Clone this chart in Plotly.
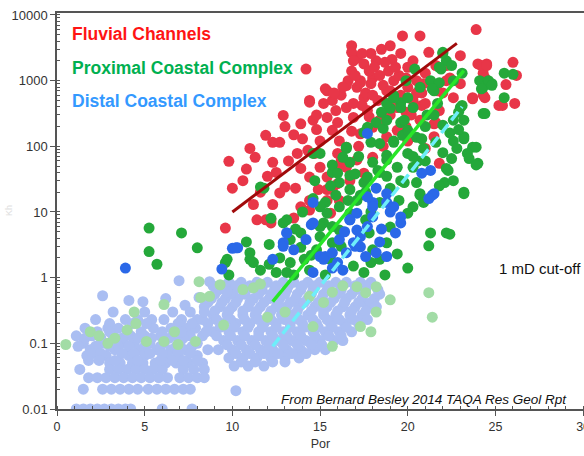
import math
import plotly.graph_objects as go

# ---------------- data (porosity %, permeability mD) ----------------
red_por = [9.8, 9.6, 10.6, 11.0, 11.3, 11.9, 12.3, 12.7, 12.9, 12.3, 13.0, 13.6, 12.3, 11.2, 10.0,
           13.9, 14.0, 14.4, 14.6, 15.4, 15.7, 14.3, 14.7, 13.7, 13.9, 14.4, 15.0, 14.9, 14.4, 15.4, 16.0, 16.1,
           16.8, 17.1, 16.8, 17.3, 18.0, 18.5, 19.0, 19.7, 20.7, 19.6, 20.0, 20.3, 20.5, 21.2, 21.6, 23.0, 23.9,
           24.0, 24.5, 24.3, 23.7, 24.3, 25.2,
           17.1, 17.5, 16.5, 16.9, 17.7, 18.3, 18.8, 19.2, 19.4, 20.0, 20.3, 20.7, 21.5, 21.8, 21.7, 22.2, 22.6,
           21.5, 21.8,
           15.4, 15.7, 16.1, 16.0, 16.5, 17.3, 18.0, 18.8, 18.4, 19.4, 20.0, 16.5, 17.1, 17.5, 18.0, 16.7, 16.0,
           15.4, 15.7, 15.4, 15.6, 14.4, 13.9, 12.7, 11.4, 12.2, 11.9, 12.2, 13.5, 14.2,
           22.2, 22.4, 22.0, 20.8, 21.6, 21.0, 20.8, 23.0, 24.2, 24.5, 24.4, 26.0, 26.2, 25.6, 23.7, 24.4, 25.4, 26.1,
           16.8, 17.5, 18.2, 18.9, 19.5, 17.8, 18.6, 17.6, 16.6, 16.2, 15.9, 16.9, 18.9, 19.9, 20.9, 21.0, 19.1,
           17.9, 12.5, 13.2, 13.5, 14.8, 13.0, 12.0, 11.6, 10.8, 14.4, 14.8, 15.3, 16.5, 17.3,
           16.9, 17.4, 18.1, 18.7, 19.3, 17.0, 17.9, 18.4, 19.9, 19.0, 17.4, 18.0, 16.3, 15.8, 15.2, 16.0,
           16.8, 17.8, 19.0, 19.6, 20.5, 21.0, 20.2, 18.6, 19.9, 17.2, 16.2, 15.0]
red_perm = [59, 5.7, 30, 93, 68, 147, 115, 115, 295, 57, 24, 23, 13, 13, 23,
            220, 130, 500, 250, 700, 500, 87, 78, 78, 46, 34, 48, 22, 15, 22, 27, 15,
            3400, 2200, 1400, 1000, 1100, 3000, 3400, 4800, 4800, 2600, 1600, 2000, 1000, 2700, 1700, 2400, 6000,
            1800, 1800, 1300, 550, 600, 420,
            790, 550, 390, 275, 350, 500, 700, 1000, 390, 790, 500, 250, 220, 350, 700, 1000, 550,
            140, 55,
            275, 175, 120, 78, 97, 155, 195, 140, 250, 175, 120, 48, 62, 39, 68, 30, 48,
            34, 22, 15, 9.6, 10.7, 12, 19.5, 7.6, 7.6, 7.6, 6.8, 8.1, 1500,
            1700, 1100, 650, 650, 230, 93, 420, 900, 1700, 1700, 1100, 1900, 1200, 870, 530, 550, 420, 450,
            2700, 1800, 2000, 1400, 1200, 1400, 850, 650, 1000, 600, 350, 450, 450, 330, 900, 1300, 2100,
            2600, 40, 60, 150, 180, 200, 35, 20, 45, 470, 300, 750, 840, 930,
            2000, 2600, 1600, 1900, 1600, 1200, 900, 1200, 1100, 700, 420, 600, 800, 650, 450, 230,
            170, 280, 300, 600, 650, 450, 300, 100, 200, 100, 60, 120]

green_por = [5.25, 7.1, 5.25, 5.7, 8.0, 9.6, 9.8,
             11.0, 11.2, 11.6, 12.1, 12.7, 12.5, 13.1, 13.3, 12.9, 13.9, 14.1, 14.4, 14.8, 15.0, 15.6, 15.7, 16.1,
             16.9, 17.5, 17.9, 18.0, 18.4, 18.8, 19.0, 17.6, 17.8, 15.2, 16.7,
             11.8, 14.6, 16.5, 16.7, 17.5, 17.9, 18.2, 18.6, 19.0, 19.2, 19.6, 19.6, 19.7, 16.7, 17.0, 17.5, 17.6,
             17.3, 15.7, 16.1, 15.9, 15.3, 15.0, 18.0, 18.4, 18.8, 19.2, 19.0, 18.4, 17.9,
             11.6, 15.0, 15.7, 16.0, 16.3, 16.5, 17.7, 18.8, 18.8, 19.2, 19.6, 20.0, 20.3, 20.7, 21.3, 21.5, 21.7,
             21.8, 22.2, 22.0, 22.6, 23.0, 23.2, 22.6, 23.2, 23.7, 23.4, 24.0, 23.2, 24.3, 24.3, 24.1, 24.8, 22.2,
             21.3, 22.2, 20.7, 20.3, 20.0, 18.8, 19.4, 20.0, 20.3, 20.5, 20.0, 19.2, 18.4, 18.3, 17.7, 17.1, 16.7,
             16.1, 15.4, 15.0, 15.7, 13.9, 13.1, 13.3, 11.0, 9.7,
             22.0, 22.5, 23.1, 21.9, 21.8, 21.4, 24.6, 24.8, 25.5, 26.0, 24.2, 25.5, 24.4, 23.1, 22.9, 22.0, 21.6,
             22.4, 22.8, 23.2, 22.5, 23.5, 23.9, 23.9, 22.0, 20.9, 22.3, 22.1, 20.7, 20.9, 23.2, 21.2, 22.4,
             14.0, 14.6, 13.6, 12.2, 10.8, 19.8, 20.6, 21.1,
             19.6, 20.3, 21.0, 21.5, 20.8, 19.8, 21.0, 22.6, 22.9, 20.4, 19.9, 18.5, 17.2, 16.6, 15.6, 14.7,
             18.8, 19.5, 20.5, 21.8, 22.6, 16.2, 14.5, 13.5, 12.1, 19.4, 20.0, 18.7, 15.3]
green_perm = [5.7, 4.8, 2.5, 1.6, 2.85, 1.7, 1.1,
              2.4, 1.7, 1.3, 1.6, 2.0, 1.2, 1.2, 1.7, 6.8, 2.9, 1.9, 1.3, 2.65, 4.2, 1.9, 3.4, 5.3,
              1.5, 1.2, 1.7, 2.65, 1.9, 3.4, 5.9, 7.6, 4.8, 6.8, 9.6,
              23, 78, 93, 57, 163, 115, 230, 187, 380, 590, 460, 230, 147, 36, 38, 28, 20,
              18, 40, 28, 18, 14, 12, 57, 40, 73, 115, 23, 14, 10,
              24, 78, 52, 39, 68, 97, 195, 250, 450, 550, 390, 550, 390, 790, 1000, 700, 450,
              1600, 2000, 2600, 1000, 390, 250, 120, 140, 97, 78, 55, 20, 315, 790, 1000, 900, 46,
              4.8, 4.8, 19, 12, 9.6, 62, 48, 78, 48, 137, 175, 120, 110, 43, 34, 15, 22,
              12, 9.6, 6.0, 6.0, 4.8, 7.6, 3.8, 1.9, 1.9,
              2700, 1700, 1300, 1500, 930, 750, 1000, 850, 1300, 1250, 750, 550, 315, 420, 330, 210, 115,
              160, 93, 130, 65, 65, 97, 52, 80, 93, 43, 28, 18, 14, 19, 3.05, 4.6,
              10, 16, 5.5, 8.0, 3.5, 28, 60, 300,
              30, 70, 200, 300, 130, 250, 60, 250, 180, 1500, 1000, 330, 70, 15, 25, 30,
              35, 15, 28, 25, 30, 3.0, 2.2, 1.1, 3.2, 2.3, 1.4, 1.1, 1.1]

blue_por = [3.9, 9.4, 10.0, 10.2, 13.1, 12.9, 13.5, 14.5, 15.0, 15.3, 15.7, 16.3, 16.5, 16.9, 17.3, 17.6,
            18.2, 18.4, 16.7, 17.1, 14.6, 18.0, 19.3, 19.6, 18.8, 14.2,
            17.7, 18.2, 18.8, 18.0, 14.6, 21.3, 21.5, 18.8, 19.2, 19.6, 17.7, 18.0, 17.1, 16.7, 17.7, 17.3,
            16.1, 15.7, 15.2, 14.6, 13.1, 12.9, 12.3, 10.3, 20.8, 21.4, 21.2, 16.4, 17.0, 18.5, 19.0, 16.0]
blue_perm = [1.4, 1.35, 2.8, 2.85, 4.8, 3.4, 2.65, 6.4, 2.1, 2.1, 1.4, 1.3, 2.4, 3.4, 2.95, 2.1,
             2.4, 3.5, 7.6, 5.3, 1.2, 8.4, 4.8, 8.4, 2.1, 3.8,
             157, 23, 14, 14, 14, 43, 19, 19, 12, 6.8, 17, 12, 9.6, 7.6, 6.0, 4.2,
             3.8, 2.4, 1.9, 6.8, 4.8, 3.0, 1.9, 2.85, 39, 18, 16, 5.0, 3.0, 5.5, 10, 1.7]

ltblue_por = [9.8, 10.5, 11.4, 12.0, 12.9, 13.5, 14.3, 15.0, 15.9, 16.5, 17.3, 17.9,
              9.2, 10.1, 10.8, 11.7, 12.4, 13.1, 13.9, 14.6, 15.4, 16.2, 17.0, 17.6, 18.3,
              8.8, 9.6, 10.3, 11.2, 12.1, 12.7, 13.6, 14.3, 15.1, 15.8, 16.5, 17.4, 18.1,
              8.4, 9.3, 10.0, 10.9, 11.6, 12.5, 13.1, 13.8, 14.7, 15.4, 16.3, 17.0, 17.7, 18.2,
              8.9, 9.7, 10.6, 11.3, 12.1, 12.8, 13.4, 14.3, 15.2, 15.9, 16.7, 17.4,
              8.6, 9.4, 10.2, 11.0, 11.8, 12.5, 13.3, 14.0, 14.8, 15.6, 16.4, 17.2,
              8.9, 9.8, 10.6, 11.5, 12.2, 12.9, 13.7, 14.6, 15.3, 16.1, 16.8,
              9.5, 10.3, 11.1, 11.9, 12.6, 13.4, 14.2, 15.0, 15.8, 16.3,
              9.2, 10.0, 10.8, 11.6, 12.3, 13.1, 13.9, 14.7, 15.3,
              9.8, 10.6, 11.4, 12.2, 13.0, 13.8,
              10.1, 10.9, 11.8,
              8.9, 9.5, 10.2, 11.0, 11.7, 12.5, 13.2, 14.0, 14.7, 15.5, 16.2, 17.0, 17.6,
              9.0, 9.9, 10.7, 11.5, 12.2, 13.0, 13.7, 14.5, 15.2, 16.0, 16.8, 17.5, 18.4,
              8.6, 9.4, 10.2, 11.0, 11.8, 12.6, 13.3, 14.1, 14.9, 15.6, 16.4, 17.2, 17.9,
              9.0, 9.8, 10.6, 11.4, 12.2, 12.9, 13.7, 14.5, 15.2, 16.0, 16.8, 17.6,
              8.3, 9.1, 9.9, 10.7, 11.5, 12.2, 13.0, 13.8, 14.6, 15.4, 16.1, 16.9, 17.7,
              9.3, 10.1, 10.9, 11.7, 12.5, 13.3, 14.1, 14.9, 15.7, 16.5,
              9.1, 9.9, 10.7, 11.5, 12.3, 13.1, 13.9, 14.7, 15.5, 16.2,
              9.7, 10.5, 11.3, 12.1, 12.9, 13.7, 14.5, 15.1,
              10.2, 11.0, 11.8, 12.6, 13.4, 14.2,
              10.5, 11.3, 12.3, 13.0,
              2.6, 4.1, 6.2, 8.1, 4.9, 7.3,
              3.2, 5.0, 6.6, 7.6, 8.4,
              2.2, 3.9, 4.6, 5.4, 6.1, 7.1, 8.0,
              1.6, 2.9, 3.5, 5.5, 6.5, 7.4, 7.9,
              1.1, 2.0, 3.2, 4.2, 5.0, 5.9, 6.8, 7.6, 8.3,
              1.5, 2.7, 3.8, 4.4, 5.3, 6.1, 7.0, 8.0,
              1.9, 2.3, 3.3, 4.7, 5.7, 6.5, 7.3, 8.6,
              1.7, 2.8, 4.1, 5.0, 6.3, 8.0,
              3.0, 3.6, 4.3, 4.9, 5.6, 6.2, 6.8, 7.5, 8.3,
              1.3, 3.0, 3.5, 4.0, 4.5, 5.0, 5.5, 6.0, 7.2, 7.8, 8.4,
              1.8, 2.3, 2.8, 3.3, 3.8, 4.3, 4.8, 5.3, 5.8, 6.3, 7.0, 7.5, 8.0, 8.4,
              1.5, 2.6, 3.1, 3.6, 4.1, 4.6, 5.2, 5.7, 6.2, 6.7, 7.2, 7.6,
              1.1, 1.5, 1.9, 2.3, 2.7, 3.1, 3.5, 3.9, 4.2, 6.0, 7.7,
              1.6, 2.5, 3.7, 4.6, 5.4, 6.4, 7.2,
              1.2, 2.2, 3.0, 3.5, 4.1, 5.0, 5.9, 6.8, 7.7,
              2.0, 2.5, 3.7, 4.4, 5.3, 6.0, 6.9, 7.6,
              1.8, 2.4, 3.3, 4.6, 5.9, 6.6, 7.2, 8.0,
              3.0, 4.3, 5.1, 6.9, 7.7,
              2.3, 3.0, 4.0, 4.8, 6.0, 7.1, 8.5,
              6.96, 8.7, 9.7, 10.2, 18.2]
ltblue_perm = [0.85] * 12 + [0.65] * 13 + [0.48] * 13 + [0.36] * 14 + [0.27] * 12 + [0.2] * 12 + \
              [0.15] * 11 + [0.11] * 10 + [0.08] * 9 + [0.06] * 6 + [0.045] * 3 + \
              [0.75] * 13 + [0.56] * 13 + [0.42] * 13 + [0.31] * 12 + [0.23] * 13 + [0.175] * 10 + \
              [0.13] * 10 + [0.095] * 8 + [0.07] * 6 + [0.052] * 4 + \
              [0.53, 0.45, 0.48, 0.5, 0.43, 0.38] + [0.3] * 5 + [0.23] * 7 + [0.17] * 7 + [0.13] * 9 + \
              [0.1] * 8 + [0.08] * 8 + [0.065] * 6 + [0.05] * 9 + [0.04] * 11 + [0.03] * 14 + \
              [0.02] * 12 + [0.01] * 11 + \
              [0.12] * 7 + [0.09] * 9 + [0.07] * 8 + [0.055] * 8 + [0.2] * 5 + [0.15] * 7 + \
              [0.9, 0.87, 0.61, 0.019, 0.36]

ltgreen_por = [0.5, 1.9, 2.4, 2.9, 3.3, 4.4, 5.1, 6.1, 6.7, 6.9, 7.9, 8.1, 8.2, 8.7, 9.3, 9.5, 6.1,
               10.6, 11.2, 11.6, 14.4, 15.2, 15.7, 16.3, 17.1, 17.6, 18.2, 19.0, 18.2, 17.9, 15.7,
               14.6, 17.3, 21.2, 21.4, 13.0, 12.0, 4.0, 4.5]
ltgreen_perm = [0.096, 0.15, 0.13, 0.1, 0.12, 0.3, 0.107, 0.107, 0.15, 0.096, 0.107, 0.87, 0.5, 0.52, 0.78,
                0.19, 0.39, 0.66, 0.7, 0.8, 0.52, 0.42, 0.6, 0.75, 0.73, 0.59, 0.73, 0.46, 0.3, 0.15,
                0.09, 0.18, 0.18, 0.59, 0.25, 0.3, 0.25, 0.16, 0.2]

# trend lines (end points)
fluvial_fit_por = [10.0, 22.8]
fluvial_fit_perm = [10, 3700]
proximal_fit_por = [12.3, 23.2]
proximal_fit_perm = [0.43, 1420]
distal_fit_por = [12.3, 23.1]
distal_fit_perm = [0.09, 400]

CUTOFF = 1
y_tickvals = [0.01, 0.1, 1, 10, 100, 1000, 10000]
y_ticktext = ["0.01", "0.1", "1", "10", "100", "1000", "10000"]
x_tickvals = [0, 5, 10, 15, 20, 25, 30]

FONT = "Liberation Sans, Arial, sans-serif"

fig = go.Figure()


def pts(x, y, color):
    fig.add_trace(go.Scatter(x=x, y=y, mode="markers", showlegend=False, hoverinfo="skip",
                             marker=dict(size=11, color=color, line=dict(width=0))))


pts(ltblue_por, ltblue_perm, "rgb(170,190,242)")
pts(ltgreen_por, ltgreen_perm, "rgb(162,220,166)")
pts(red_por, red_perm, "rgb(232,54,72)")
pts(green_por, green_perm, "rgb(36,168,58)")
pts(blue_por, blue_perm, "rgb(42,104,232)")

fig.add_trace(go.Scatter(x=fluvial_fit_por, y=fluvial_fit_perm, mode="lines", showlegend=False,
                         line=dict(color="rgb(160,10,10)", width=3)))
fig.add_trace(go.Scatter(x=proximal_fit_por, y=proximal_fit_perm, mode="lines", showlegend=False,
                         line=dict(color="rgb(40,230,40)", width=3.5)))
fig.add_trace(go.Scatter(x=distal_fit_por, y=distal_fit_perm, mode="lines", showlegend=False,
                         line=dict(color="rgb(110,238,250)", width=3.5, dash="11px,5px")))

fig.add_shape(type="line", xref="paper", x0=0, x1=1, yref="y",
              y0=math.log10(CUTOFF), y1=math.log10(CUTOFF),
              line=dict(color="rgb(20,20,140)", width=1.2, dash="dot"))

fig.add_annotation(text="1 mD cut-off", xref="paper", x=0.998, xanchor="right",
                   yref="y", y=math.log10(CUTOFF), yanchor="bottom", yshift=-1,
                   showarrow=False, font=dict(family=FONT, size=15, color="#111"))

for txt, col, yy in [("Fluvial Channels", "rgb(255,20,20)", 34),
                     ("Proximal Coastal Complex", "rgb(0,176,80)", 68),
                     ("Distal Coastal Complex", "rgb(51,153,255)", 101)]:
    fig.add_annotation(text="<b>%s</b>" % txt, xref="paper", x=(70 - 57) / 527, xanchor="left",
                       yref="paper", y=1 - (yy - 13) / 396, yanchor="middle",
                       showarrow=False, font=dict(family=FONT, size=17.5, color=col))

fig.add_annotation(text="<i>From Bernard Besley 2014 TAQA Res Geol Rpt</i>", xref="paper",
                   x=(569 - 57) / 527, xanchor="right", yref="paper", y=1 - (399 - 13) / 396,
                   yanchor="middle", showarrow=False,
                   font=dict(family=FONT, size=13.5, color="#111"))

fig.add_annotation(text="Kh", textangle=-90, xref="paper", x=-57 / 527 + 0.004, xanchor="left",
                   yref="paper", y=1 - (211 - 13) / 396, yanchor="middle", showarrow=False,
                   font=dict(family=FONT, size=9, color="#e0e0e0"))

axis_col = "#555"
fig.update_layout(
    width=584, height=456,
    margin=dict(l=57, r=0, t=13, b=47, autoexpand=False),
    plot_bgcolor="white", paper_bgcolor="white",
    font=dict(family=FONT, color="#333"),
    xaxis=dict(range=[0, 30.05], tickvals=x_tickvals, ticks="outside", ticklen=5, tickwidth=1,
               tickcolor=axis_col, showline=True, linecolor=axis_col, linewidth=1.5, mirror=True,
               showgrid=False, zeroline=False, tickfont=dict(size=12.5, color="#333"),
               ticklabeloverflow="allow", automargin=False,
               minor=dict(dtick=1, ticks="inside", ticklen=3, tickcolor=axis_col, showgrid=False),
               title=dict(text="Por", font=dict(size=12.5, color="#333"), standoff=6)),
    yaxis=dict(type="log", range=[-2, 4.03], tickmode="array", tickvals=y_tickvals, ticktext=y_ticktext,
               ticks="outside", ticklen=5, tickwidth=1, tickcolor=axis_col, showline=True,
               linecolor=axis_col, linewidth=1.5, showgrid=False, zeroline=False, automargin=False,
               tickfont=dict(size=13, color="#333"),
               minor=dict(dtick="D1", ticks="inside", ticklen=3, tickcolor=axis_col, showgrid=False)),
)

fig.write_html("out.html")
